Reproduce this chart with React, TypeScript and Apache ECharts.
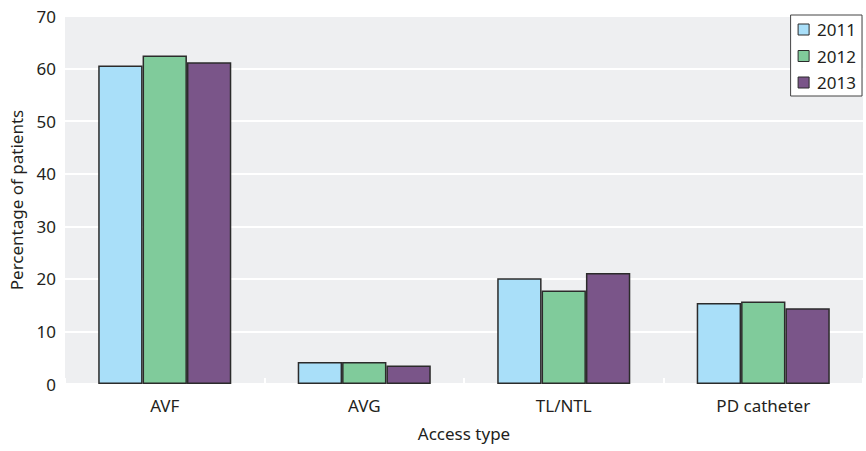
import React, { useEffect, useRef } from "react";
import * as echarts from "echarts";

const categories = ["AVF", "AVG", "TL/NTL", "PD catheter"];
const years = ["2011", "2012", "2013"];
const values2011 = [60.6, 4.2, 20.1, 15.4];
const values2012 = [62.5, 4.2, 17.8, 15.7];
const values2013 = [61.2, 3.5, 21.1, 14.4];
const colors = ["#a9dff9", "#80cb9b", "#7a5589"];
const yTicks = { min: 0, max: 70, interval: 10 };

export default function App() {
  const ref = useRef<HTMLDivElement>(null);
  useEffect(() => {
    const chart = echarts.init(ref.current!, null, { renderer: "svg" });
    const font = "'Noto Sans', sans-serif";
    const seriesData = [values2011, values2012, values2013];
    chart.setOption({
      animation: false,
      textStyle: { fontFamily: font },
      legend: {
        right: 4,
        top: 15,
        orient: "vertical",
        data: years,
        backgroundColor: "#ffffff",
        borderColor: "#444",
        borderWidth: 1,
        borderRadius: 0,
        padding: [6, 6, 5, 7],
        itemGap: 9.5,
        itemWidth: 11,
        itemHeight: 11,
        icon: "rect",
        itemStyle: { borderColor: "#2b2b2b", borderWidth: 1 },
        textStyle: { fontSize: 17, lineHeight: 17, color: "#231f20", fontFamily: font, padding: [0, 0, 0, 3] },
      },
      grid: {
        left: 63,
        right: 3,
        top: 16,
        bottom: 67,
        show: true,
        backgroundColor: "#eeeff1",
        borderWidth: 0,
      },
      xAxis: {
        type: "category",
        data: categories,
        name: "Access type",
        nameLocation: "middle",
        nameGap: 41,
        nameTextStyle: { fontSize: 17, color: "#231f20", fontFamily: font },
        axisLine: { show: false },
        axisTick: { show: true, inside: true, length: 6, lineStyle: { color: "#ffffff", width: 2 } },
        axisLabel: { fontSize: 17, color: "#231f20", margin: 13, fontFamily: font },
      },
      yAxis: {
        type: "value",
        min: yTicks.min,
        max: yTicks.max,
        interval: yTicks.interval,
        name: "Percentage of patients",
        nameLocation: "middle",
        nameGap: 40,
        nameTextStyle: { fontSize: 17, color: "#231f20", fontFamily: font },
        axisLine: { show: false },
        axisTick: { show: false },
        axisLabel: { fontSize: 17, color: "#231f20", margin: 9, fontFamily: font },
        splitLine: { lineStyle: { color: "#ffffff", width: 2 } },
      },
      series: years.map((y, i) => ({
        name: y,
        type: "bar",
        data: seriesData[i],
        barGap: "0%",
        barCategoryGap: "33.3%",
        itemStyle: { color: colors[i], borderColor: "#2b2b2b", borderWidth: 1.5 },
      })),
    });
    return () => chart.dispose();
  }, []);
  return (
    <div
      ref={ref}
      style={{ position: "absolute", left: 0, top: 0, width: 866, height: 451 }}
    />
  );
}
